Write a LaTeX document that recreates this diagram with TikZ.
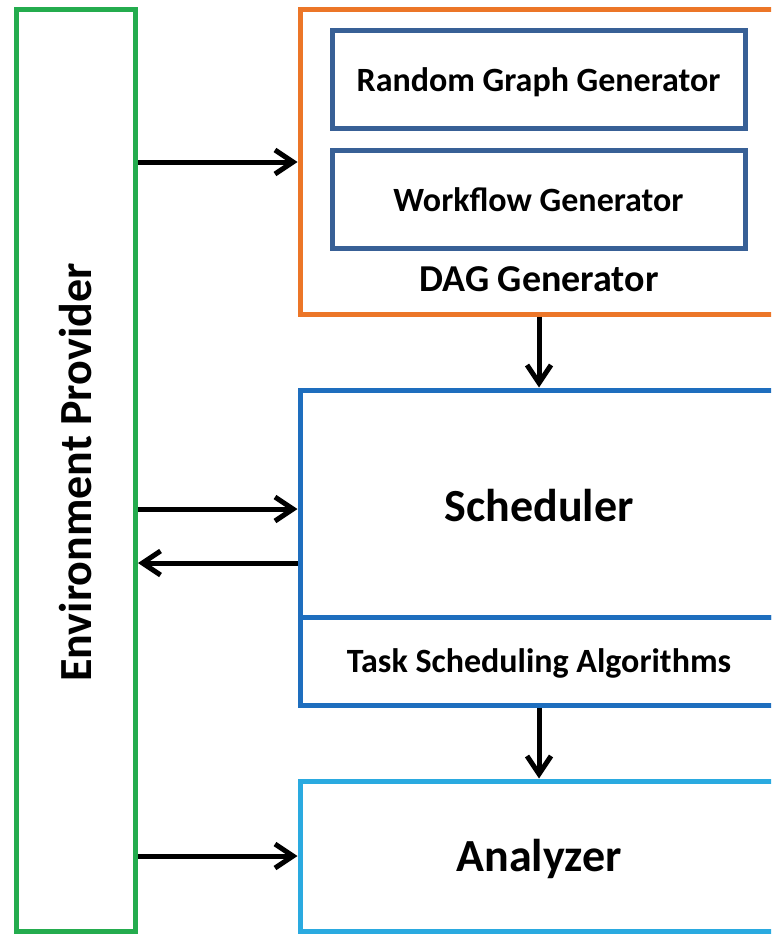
\documentclass[tikz,border=0pt]{standalone}
\usepackage{fontspec}
\setmainfont{Carlito}
\usetikzlibrary{arrows.meta,calc}

\definecolor{envgreen}{RGB}{36,172,78}
\definecolor{dagorange}{RGB}{236,118,40}
\definecolor{genblue}{RGB}{56,96,150}
\definecolor{schedblue}{RGB}{30,110,190}
\definecolor{anablue}{RGB}{42,170,224}

\tikzset{
  frame/.style={draw=#1, line width=5pt, fill=none, inner sep=0pt},
  lbl/.style={font=\fontsize{#1}{#1}\selectfont\bfseries, inner sep=0pt},
  arr/.style={line width=5pt, -{Straight Barb[length=18pt,width=24pt]}},
}

\begin{document}
\begin{tikzpicture}[x=1pt,y=-1pt]
\useasboundingbox (0,0) rectangle (771,934);
\clip (0,0) rectangle (771,934);

% Environment provider column
\node[frame=envgreen, minimum width=119pt, minimum height=921pt] (env) at (76,470.5) {};
\node[lbl=46pt, rotate=90] (envlbl) at ($(env.center)+(0,2)$) {Environment Provider};

% DAG generator with its two generators
\node[frame=dagorange, minimum width=478pt, minimum height=304pt] (dag) at (539,162) {};
\node[frame=genblue, minimum width=413pt, minimum height=97.5pt] (rgg) at (538.5,79.25) {};
\node[lbl=34pt] at ($(rgg.center)+(0,3)$) {Random Graph Generator};
\node[frame=genblue, minimum width=413pt, minimum height=98pt] (wfg) at (538.5,199) {};
\node[lbl=34pt] at ($(wfg.center)+(0,1)$) {Workflow Generator};
\node[lbl=38pt] (daglbl) at (539,279) {DAG Generator};

% Scheduler and its algorithm strip
\node[frame=schedblue, minimum width=478pt, minimum height=227pt] (sched) at (539,503.5) {};
\node[lbl=46pt] at ($(sched.center)+(0,2)$) {Scheduler};
\node[frame=schedblue, minimum width=478pt, minimum height=88pt] (tsa) at (539,661) {};
\node[lbl=34pt] at ($(tsa.center)+(0,2)$) {Task Scheduling Algorithms};

% Analyzer
\node[frame=anablue, minimum width=478pt, minimum height=150pt] (ana) at (539,856) {};
\node[lbl=46pt] at ($(ana.center)+(0,3)$) {Analyzer};

% Connectors
\draw[arr] (env.east |- dag.west) -- (dag.west);
\draw[arr] ($(env.east |- sched.west)+(0,5.5)$) -- ($(sched.west)+(0,5.5)$);
\draw[arr] ($(sched.west)+(0,59.5)$) -- ($(env.east |- sched.west)+(0,59.5)$);
\draw[arr] (env.east |- ana.west) -- (ana.west);
\draw[arr] (dag.south) -- (sched.north);
\draw[arr] (tsa.south) -- (ana.north);
\end{tikzpicture}
\end{document}
